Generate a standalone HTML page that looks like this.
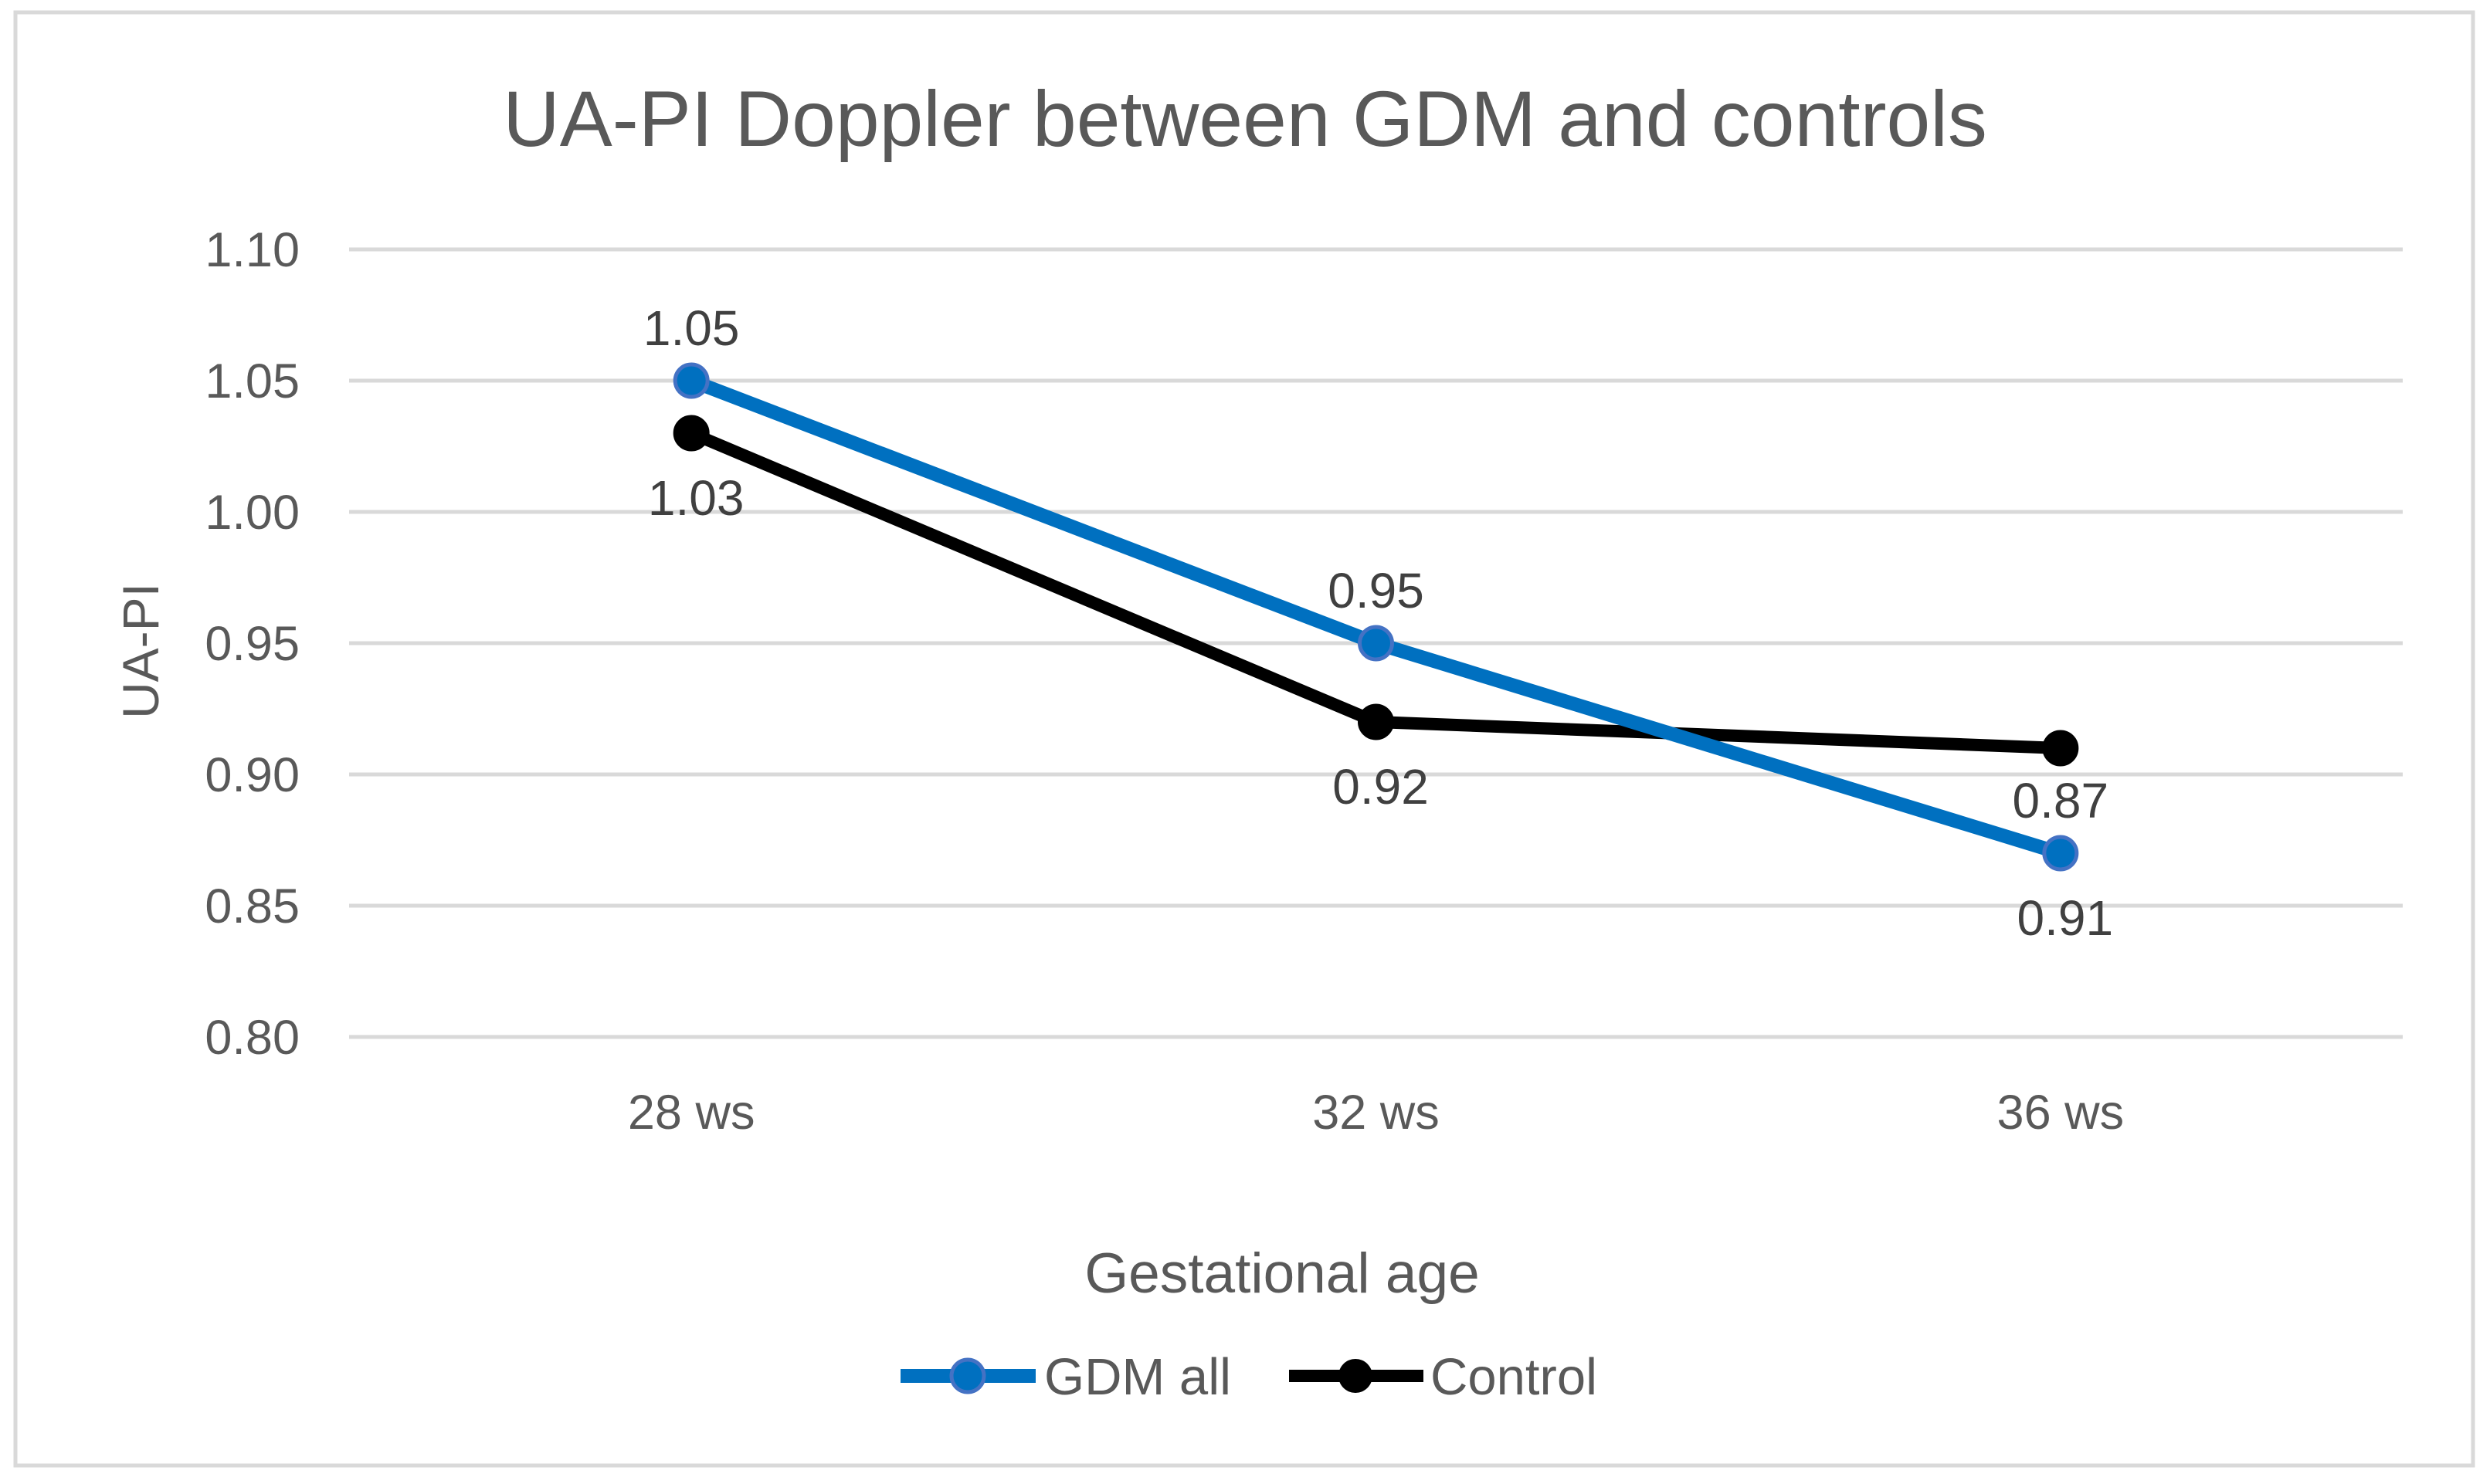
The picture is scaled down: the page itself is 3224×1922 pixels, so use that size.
<!DOCTYPE html>
<html><head><meta charset="utf-8"><style>
body{margin:0;background:#fff}
svg{display:block;font-family:"Liberation Sans",sans-serif}
</style></head><body>
<svg id="chart" width="3224" height="1922" viewBox="0 0 3224 1922">
<rect x="20" y="16" width="3182" height="1882" fill="#fff" stroke="#d9d9d9" stroke-width="5"/>
<text x="1612" y="189" text-anchor="middle" font-size="102" fill="#595959">UA-PI Doppler between GDM and controls</text>
<text transform="translate(205,843) rotate(-90)" text-anchor="middle" font-size="66" fill="#595959">UA-PI</text>
<text x="1660" y="1674" text-anchor="middle" font-size="73" fill="#595959">Gestational age</text>
<g id="grid"></g><g id="series"></g><g id="labels"></g>
<g>
<g>
<line x1="1166" y1="1782" x2="1341" y2="1782" stroke="#0070c0" stroke-width="18"/>
<circle cx="1253" cy="1782" r="21" fill="#0070c0" stroke="#4472c4" stroke-width="5"/>
<text x="1352" y="1806" font-size="67" fill="#595959">GDM all</text></g>
<g>
<line x1="1669" y1="1782" x2="1843" y2="1782" stroke="#000" stroke-width="16"/>
<circle cx="1755" cy="1782" r="22" fill="#000"/>
<text x="1852" y="1806" font-size="67" fill="#595959">Control</text></g>
</g>
</svg>
<script>
const categories=["28 ws","32 ws","36 ws"];
const gdmValues=[1.05,0.95,0.87];
const controlValues=[1.03,0.92,0.91];
const yTicks=[0.80,0.85,0.90,0.95,1.00,1.05,1.10];
const NS="http://www.w3.org/2000/svg";
const x0=452,x1=3111,yTop=323,yBot=1343,yMin=0.80,yMax=1.10;
function xs(i){return x0+(x1-x0)*(i+0.5)/categories.length;}
function ys(v){return yBot-(v-yMin)/(yMax-yMin)*(yBot-yTop);}
function mk(tag,attrs,parent){const e=document.createElementNS(NS,tag);for(const k in attrs)e.setAttribute(k,attrs[k]);parent.appendChild(e);return e;}
const grid=document.getElementById('grid'),ser=document.getElementById('series'),lab=document.getElementById('labels');
yTicks.forEach(t=>{
 const l=mk('line',{x1:x0,x2:x1,y1:ys(t),y2:ys(t),stroke:'#d9d9d9','stroke-width':5},grid);
 
 
 const tx=mk('text',{x:388,y:ys(t)+22,'text-anchor':'end','font-size':63,fill:'#595959'},grid);
 tx.textContent=t.toFixed(2);
 
 
});
categories.forEach((c,i)=>{
 const tx=mk('text',{x:xs(i),y:1462,'text-anchor':'middle','font-size':63,fill:'#595959'},grid);
 tx.textContent=c;
 
 
});
function drawSeries(vals,color,w,stroke,name){
 const pts=vals.map((v,i)=>xs(i)+','+ys(v)).join(' ');
 const pl=mk('polyline',{points:pts,fill:'none',stroke:color,'stroke-width':w,'stroke-linejoin':'round'},ser);
 
 
 vals.forEach((v,i)=>{
  const c=mk('circle',{cx:xs(i),cy:ys(v),r:21,fill:color,stroke:stroke,'stroke-width':5},ser);
  
  
 });
}
drawSeries(controlValues,'#000',16,'#000','control');
drawSeries(gdmValues,'#0070c0',18,'#4472c4','gdm');
categories.forEach((c,i)=>{
 const g=mk('text',{x:xs(i),y:ys(gdmValues[i])-46,'text-anchor':'middle','font-size':64,fill:'#404040'},lab);
 g.textContent=gdmValues[i].toFixed(2);
 
 
 const yb=Math.max(ys(gdmValues[i]),ys(controlValues[i]))+106;
 const k=mk('text',{x:xs(i)+6,y:yb,'text-anchor':'middle','font-size':64,fill:'#404040'},lab);
 k.textContent=controlValues[i].toFixed(2);
 
 
});
</script>
</body></html>
